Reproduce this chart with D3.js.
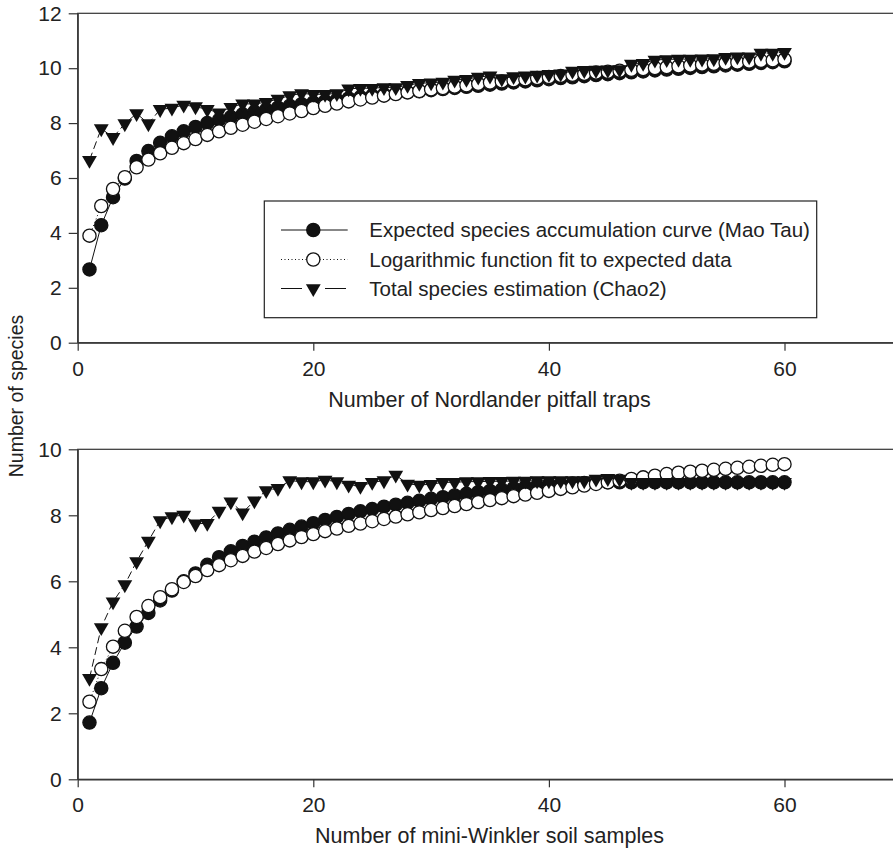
<!DOCTYPE html>
<html>
<head>
<meta charset="utf-8">
<script src="https://cdn.jsdelivr.net/npm/d3@7"></script>
<style>
  body { margin: 0; background: #fff; }
  svg { display: block; font-family: "Liberation Sans", Arial, sans-serif; }
  .axis path, .axis line { stroke: #333; stroke-width: 1.2; }
  .axis text { font-size: 21px; fill: #222; }
  .axisTitle { font-size: 21.5px; fill: #222; }
  .legendText { font-size: 20.5px; fill: #222; }
</style>
</head>
<body>
<div id="chart"></div>
<script>
// sample counts (x categories), same for both panels
var samples = [1, 2, 3, 4, 5, 6, 7, 8, 9, 10, 11, 12, 13, 14, 15, 16, 17, 18, 19, 20,
  21, 22, 23, 24, 25, 26, 27, 28, 29, 30, 31, 32, 33, 34, 35, 36, 37, 38, 39, 40,
  41, 42, 43, 44, 45, 46, 47, 48, 49, 50, 51, 52, 53, 54, 55, 56, 57, 58, 59, 60];

// top panel: Nordlander pitfall traps
var pitMaoTau = [2.67, 4.28, 5.30, 5.98, 6.62, 6.98, 7.28, 7.52, 7.70, 7.86,
  8.00, 8.12, 8.22, 8.32, 8.41, 8.49, 8.56, 8.63, 8.69, 8.75,
  8.80, 8.85, 8.90, 8.95, 9.00, 9.04, 9.08, 9.12, 9.16, 9.20,
  9.24, 9.28, 9.32, 9.36, 9.40, 9.44, 9.48, 9.52, 9.56, 9.60,
  9.64, 9.67, 9.71, 9.75, 9.78, 9.82, 9.85, 9.88, 9.92, 9.95,
  9.98, 10.01, 10.04, 10.07, 10.10, 10.13, 10.16, 10.19, 10.22, 10.25];
var pitLogFit = [3.90, 4.98, 5.60, 6.03, 6.39, 6.67, 6.90, 7.10, 7.27, 7.42,
  7.57, 7.70, 7.83, 7.94, 8.05, 8.15, 8.25, 8.35, 8.44, 8.55,
  8.63, 8.71, 8.79, 8.86, 8.93, 9.00, 9.06, 9.12, 9.17, 9.23,
  9.28, 9.33, 9.38, 9.43, 9.48, 9.52, 9.56, 9.60, 9.64, 9.68,
  9.72, 9.76, 9.80, 9.84, 9.87, 9.91, 9.94, 9.97, 10.01, 10.04,
  10.07, 10.10, 10.13, 10.16, 10.19, 10.21, 10.24, 10.27, 10.29, 10.32];
var pitChao2 = [6.65, 7.80, 7.48, 7.98, 8.35, 7.98, 8.50, 8.55, 8.66, 8.60,
  8.50, 8.38, 8.58, 8.70, 8.70, 8.76, 8.88, 9.00, 9.08, 9.05,
  9.05, 9.08, 9.25, 9.27, 9.27, 9.30, 9.30, 9.38, 9.45, 9.47,
  9.50, 9.57, 9.60, 9.68, 9.72, 9.62, 9.70, 9.72, 9.75, 9.78,
  9.80, 9.90, 9.92, 9.93, 9.94, 9.95, 10.15, 10.18, 10.30, 10.32,
  10.33, 10.33, 10.34, 10.35, 10.40, 10.42, 10.42, 10.55, 10.55, 10.58];

// bottom panel: mini-Winkler soil samples
var winMaoTau = [1.72, 2.76, 3.53, 4.14, 4.63, 5.04, 5.42, 5.72, 6.00, 6.24,
  6.50, 6.73, 6.91, 7.07, 7.20, 7.33, 7.45, 7.56, 7.66, 7.76,
  7.86, 7.95, 8.04, 8.12, 8.19, 8.26, 8.32, 8.38, 8.44, 8.50,
  8.55, 8.60, 8.65, 8.70, 8.74, 8.78, 8.82, 8.86, 8.89, 8.92,
  8.94, 8.96, 8.98, 8.99, 9.00, 9.00, 9.00, 9.00, 9.00, 9.00,
  9.00, 9.00, 9.00, 9.00, 9.00, 9.00, 9.00, 9.00, 9.00, 9.00];
var winLogFit = [2.35, 3.34, 4.02, 4.50, 4.92, 5.25, 5.52, 5.76, 5.98, 6.16,
  6.34, 6.49, 6.64, 6.77, 6.90, 7.01, 7.13, 7.24, 7.34, 7.43,
  7.52, 7.60, 7.68, 7.75, 7.82, 7.89, 7.96, 8.03, 8.09, 8.16,
  8.22, 8.28, 8.34, 8.40, 8.46, 8.52, 8.58, 8.63, 8.68, 8.74,
  8.80, 8.85, 8.90, 8.95, 9.00, 9.05, 9.10, 9.15, 9.20, 9.25,
  9.29, 9.32, 9.35, 9.38, 9.41, 9.44, 9.47, 9.50, 9.53, 9.55];
var winChao2 = [3.06, 4.60, 5.38, 5.90, 6.60, 7.22, 7.84, 7.96, 8.01, 7.74,
  7.76, 8.13, 8.41, 8.08, 8.44, 8.75, 8.82, 9.05, 9.02, 9.02,
  9.07, 9.02, 8.92, 8.88, 9.00, 9.05, 9.22, 8.95, 8.92, 8.94,
  9.00, 9.00, 9.02, 9.02, 9.03, 9.03, 9.04, 9.04, 9.05, 9.05,
  9.05, 9.05, 9.05, 9.10, 9.12, 9.10, 9.00, 9.00, 9.00, 9.00,
  9.00, 9.00, 9.00, 9.00, 9.00, 9.00, 9.00, 9.00, 9.00, 9.00];

var legendLabels = [
  "Expected species accumulation curve (Mao Tau)",
  "Logarithmic function fit to expected data",
  "Total species estimation (Chao2)"
];
var xTicks = [0, 20, 40, 60];

var svgWidth = 893;
var svgHeight = 848;

var svg = d3.select("#chart")
  .append("svg")
  .attr("width", svgWidth)
  .attr("height", svgHeight);

svg.append("rect")
  .attr("width", svgWidth)
  .attr("height", svgHeight)
  .attr("fill", "#fff");

var xScale = d3.scaleLinear().domain([0, 70]).range([77.7, 902.3]);

var triangle = d3.symbol().type(d3.symbolTriangle).size(95);

// one series style per legend entry (legendDash = sample line in the box)
var styles = [
  { dash: null, legendDash: null, marker: "filled" },
  { dash: "1,2.5", legendDash: "1,2.5", marker: "open" },
  { dash: "8,4", legendDash: "21,23", marker: "tri" }
];

function drawMarkers(g, pts, marker) {
  if (marker === "tri") {
    g.selectAll("path.tri").data(pts).enter()
      .append("path")
      .attr("class", "tri")
      .attr("d", triangle)
      .attr("transform", d => `translate(${d[0]},${d[1]}) rotate(180)`)
      .attr("fill", "#111");
  } else {
    g.selectAll("circle").data(pts).enter()
      .append("circle")
      .attr("cx", d => d[0])
      .attr("cy", d => d[1])
      .attr("r", 6.6)
      .attr("fill", marker === "filled" ? "#111" : "#fff")
      .attr("stroke", "#111")
      .attr("stroke-width", 1.3);
  }
}

function drawPanel(yMax, yBottom, yTop, series, title, titleY) {
  var yScale = d3.scaleLinear().domain([0, yMax]).range([yBottom, yTop]);

  // frame (right side falls outside the picture)
  svg.append("rect")
    .attr("x", xScale(0))
    .attr("y", yTop)
    .attr("width", xScale(70) - xScale(0))
    .attr("height", yBottom - yTop)
    .attr("fill", "none")
    .attr("stroke", "#333")
    .attr("stroke-width", 1.2);

  svg.append("g")
    .attr("class", "axis")
    .attr("transform", `translate(0, ${yBottom})`)
    .call(d3.axisBottom(xScale).tickValues(xTicks).tickSize(8).tickPadding(10).tickSizeOuter(0));

  svg.append("g")
    .attr("class", "axis")
    .attr("transform", `translate(${xScale(0)}, 0)`)
    .call(d3.axisLeft(yScale).tickValues(d3.range(0, yMax + 1, 2)).tickSize(9).tickPadding(7).tickSizeOuter(0));

  var line = d3.line()
    .x(d => d[0])
    .y(d => d[1]);

  series.forEach(function(vals, i) {
    var pts = samples.map((s, j) => [xScale(s), yScale(vals[j])]);
    var g = svg.append("g");
    g.append("path")
      .attr("d", line(pts))
      .attr("fill", "none")
      .attr("stroke", "#111")
      .attr("stroke-width", 1)
      .attr("stroke-dasharray", styles[i].dash);
    drawMarkers(g, pts, styles[i].marker);
  });

  svg.append("text")
    .attr("class", "axisTitle")
    .attr("x", 489.5)
    .attr("y", titleY)
    .attr("text-anchor", "middle")
    .text(title);

  return yScale;
}

drawPanel(12, 342.7, 13.3, [pitMaoTau, pitLogFit, pitChao2],
  "Number of Nordlander pitfall traps", 406.5);
drawPanel(10, 779.3, 449.3, [winMaoTau, winLogFit, winChao2],
  "Number of mini-Winkler soil samples", 843);

// shared y axis title
svg.append("text")
  .attr("class", "axisTitle")
  .attr("transform", "translate(22.5, 396) rotate(-90)")
  .attr("text-anchor", "middle")
  .style("font-size", "19.5px")
  .text("Number of species");

// legend box in top panel
var legend = svg.append("g");
legend.append("rect")
  .attr("x", 264.3)
  .attr("y", 201)
  .attr("width", 552.4)
  .attr("height", 116.7)
  .attr("fill", "#fff")
  .attr("stroke", "#222")
  .attr("stroke-width", 1.2);

var rowY = [230, 259.5, 288.5];
legendLabels.forEach(function(label, i) {
  var row = legend.append("g");
  row.append("line")
    .attr("x1", 281).attr("x2", 347.7)
    .attr("y1", rowY[i]).attr("y2", rowY[i])
    .attr("stroke", "#111")
    .attr("stroke-width", 1)
    .attr("stroke-dasharray", styles[i].legendDash);
  drawMarkers(row, [[313.3, rowY[i]]], styles[i].marker);
  row.append("text")
    .attr("class", "legendText")
    .attr("x", 369.3)
    .attr("y", rowY[i])
    .attr("dy", "0.36em")
    .text(label);
});
</script>
</body>
</html>
